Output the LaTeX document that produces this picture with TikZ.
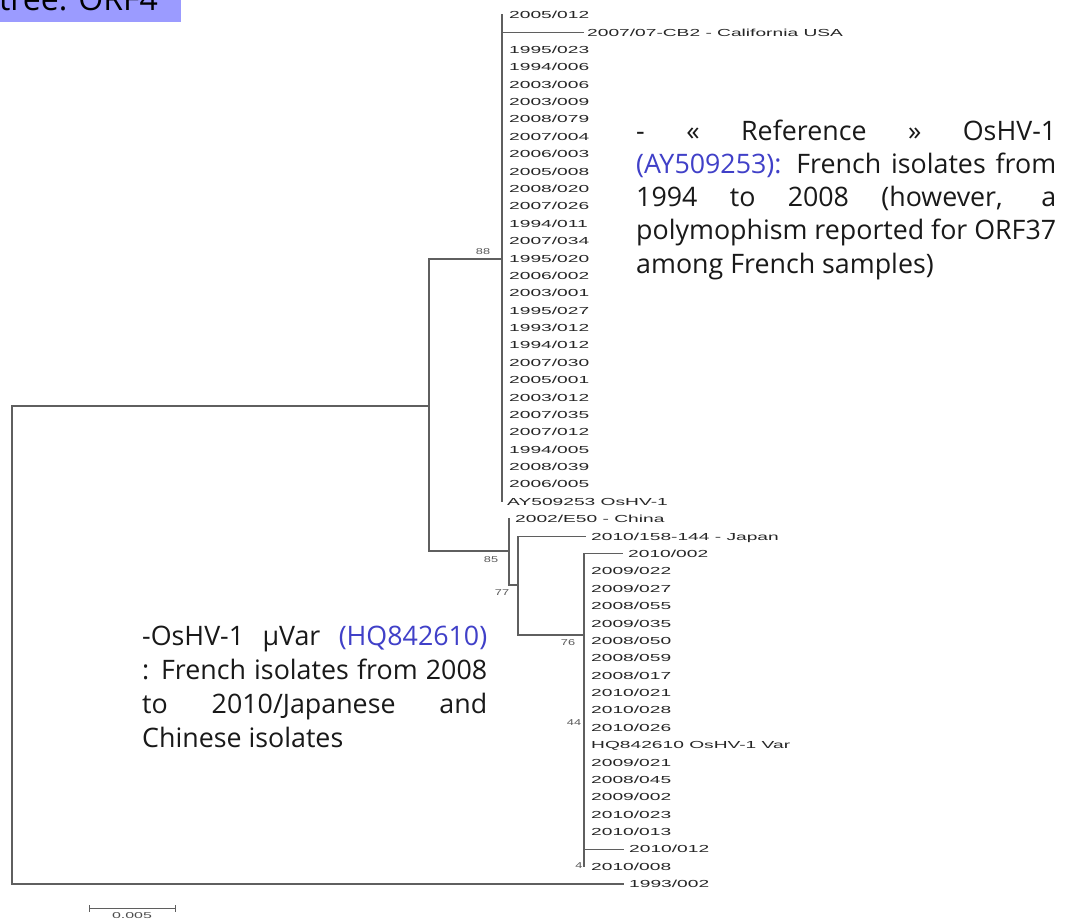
\documentclass[tikz,border=0pt]{standalone}
\usepackage{fontspec}
\setmainfont{Open Sans}
\newfontfamily\leaffont[FakeStretch=1.88]{Liberation Sans}
\newfontfamily\bootfont[FakeStretch=1.5]{Liberation Sans}
\definecolor{acc}{RGB}{64,64,200}
\definecolor{titlebg}{RGB}{155,155,255}
\definecolor{branchc}{RGB}{95,95,95}
\newcommand\leafnode[4]{%
  \coordinate (#1r) at (#3,{15+17.38*(#2-1)});
  \node[leaf] (#1) at (#3,{15+17.38*(#2-1)+3.7}) {#4};}
\begin{document}
\begin{tikzpicture}[x=1pt,y=-1pt,
  leaf/.style={anchor=base west,inner sep=0pt,text=black!85,font=\leaffont\fontsize{10.2}{12}\selectfont},
  boot/.style={inner sep=0pt,text=black!65,font=\bootfont\fontsize{8.5}{10}\selectfont},
  branch/.style={draw=branchc,line width=1.3pt,line cap=rect},
  annot/.style={inner sep=0pt,anchor=base west,text=black!90}]
\useasboundingbox (0,0) rectangle (1074,920);
\fill[white] (0,0) rectangle (1074,920);
% title
\fill[titlebg] (0,0) rectangle (181,22);
\node[anchor=base west,inner sep=0pt,font=\fontsize{32}{36}\selectfont] (title) at (-1,10.5) {tree: ORF4};
% leaves
\leafnode{l1}{1}{509}{2005/012}
\leafnode{l2}{2}{587}{2007/07-CB2 - California USA}
\leafnode{l3}{3}{509}{1995/023}
\leafnode{l4}{4}{509}{1994/006}
\leafnode{l5}{5}{509}{2003/006}
\leafnode{l6}{6}{509}{2003/009}
\leafnode{l7}{7}{509}{2008/079}
\leafnode{l8}{8}{509}{2007/004}
\leafnode{l9}{9}{509}{2006/003}
\leafnode{l10}{10}{509}{2005/008}
\leafnode{l11}{11}{509}{2008/020}
\leafnode{l12}{12}{509}{2007/026}
\leafnode{l13}{13}{509}{1994/011}
\leafnode{l14}{14}{509}{2007/034}
\leafnode{l15}{15}{509}{1995/020}
\leafnode{l16}{16}{509}{2006/002}
\leafnode{l17}{17}{509}{2003/001}
\leafnode{l18}{18}{509}{1995/027}
\leafnode{l19}{19}{509}{1993/012}
\leafnode{l20}{20}{509}{1994/012}
\leafnode{l21}{21}{509}{2007/030}
\leafnode{l22}{22}{509}{2005/001}
\leafnode{l23}{23}{509}{2003/012}
\leafnode{l24}{24}{509}{2007/035}
\leafnode{l25}{25}{509}{2007/012}
\leafnode{l26}{26}{509}{1994/005}
\leafnode{l27}{27}{509}{2008/039}
\leafnode{l28}{28}{509}{2006/005}
\leafnode{l29}{29}{507}{AY509253 OsHV-1}
\leafnode{l30}{30}{515}{2002/E50 - China}
\leafnode{l31}{31}{591}{2010/158-144 - Japan}
\leafnode{l32}{32}{628}{2010/002}
\leafnode{l33}{33}{591}{2009/022}
\leafnode{l34}{34}{591}{2009/027}
\leafnode{l35}{35}{591}{2008/055}
\leafnode{l36}{36}{591}{2009/035}
\leafnode{l37}{37}{591}{2008/050}
\leafnode{l38}{38}{591}{2008/059}
\leafnode{l39}{39}{591}{2008/017}
\leafnode{l40}{40}{591}{2010/021}
\leafnode{l41}{41}{591}{2010/028}
\leafnode{l42}{42}{591}{2010/026}
\leafnode{l43}{43}{591}{HQ842610 OsHV-1 Var}
\leafnode{l44}{44}{591}{2009/021}
\leafnode{l45}{45}{591}{2008/045}
\leafnode{l46}{46}{591}{2009/002}
\leafnode{l47}{47}{591}{2010/023}
\leafnode{l48}{48}{591}{2010/013}
\leafnode{l49}{49}{629}{2010/012}
\leafnode{l50}{50}{591}{2010/008}
\leafnode{l51}{51}{629}{1993/002}
% internal nodes
\coordinate (r) at (12,406);
\coordinate (n1) at (429,406);
\coordinate (nA) at (502,259);
\coordinate (n2) at (509,551);
\coordinate (n3) at (518,585);
\coordinate (n4) at (584,635);
% branches
\draw[branch] (n1) -- (r) -- (r |- l51r) -- ([xshift=-6pt]l51r);
\draw[branch] (nA) -- (n1 |- nA) -- (n1 |- n2) -- (n2);
\draw[branch] (nA |- l1r) -- (nA |- l29r);
\draw[branch] (nA |- l2r) -- ([xshift=-4pt]l2r);
\draw[branch] (n2 |- l30r) -- (n2 |- n3) -- (n3);
\draw[branch] (n3 |- l31r) -- (n3 |- n4) -- (n4);
\draw[branch] (n3 |- l31r) -- ([xshift=-6pt]l31r);
\draw[branch] (n4 |- l32r) -- (n4 |- l50r);
\draw[branch] (n4 |- l32r) -- ([xshift=-6pt]l32r);
\draw[branch] (n4 |- l49r) -- ([xshift=-6pt]l49r);
% bootstrap values
\node[boot] (b88) at (483,252) {88};
\node[boot] (b85) at (491,560) {85};
\node[boot] (b77) at (502,593) {77};
\node[boot] (b76) at (568,643) {76};
\node[boot] (b44) at (574,723) {44};
\node[boot] (b4) at (579,866) {4};
% scale bar
\coordinate (s1) at (89,908);
\coordinate (s2) at (175,908);
\draw[branch,line width=1pt] (s1) -- (s2);
\draw[branch,line width=1pt] ([yshift=-3pt]s1) -- ([yshift=3pt]s1);
\draw[branch,line width=1pt] ([yshift=-3pt]s2) -- ([yshift=3pt]s2);
\node[anchor=north,inner sep=0pt,text=black!70,font=\leaffont\fontsize{8.5}{10}\selectfont] (scl) at (132,912.5) {0.005};
% annotations
\node[annot] (ann1) at (636,140.7) {\parbox[t]{420pt}{\fontsize{26.8}{33.1}\selectfont
\makebox[420pt][s]{- \ « \ Reference \ » \ OsHV-1}\\
\makebox[420pt][s]{{\color{acc}(AY509253):} French isolates from}\\
\makebox[420pt][s]{1994 to 2008 (however, a}\\
\makebox[420pt][s]{polymophism reported for ORF37}\\
among French samples)}};
\node[annot] (ann2) at (142,645) {\parbox[t]{345pt}{\fontsize{26.8}{34.3}\selectfont
\makebox[345pt][s]{-OsHV-1 µVar {\color{acc}(HQ842610)}}\\
\makebox[345pt][s]{: French isolates from 2008}\\
\makebox[345pt][s]{to 2010/Japanese and}\\
Chinese isolates}};
\end{tikzpicture}
\end{document}
